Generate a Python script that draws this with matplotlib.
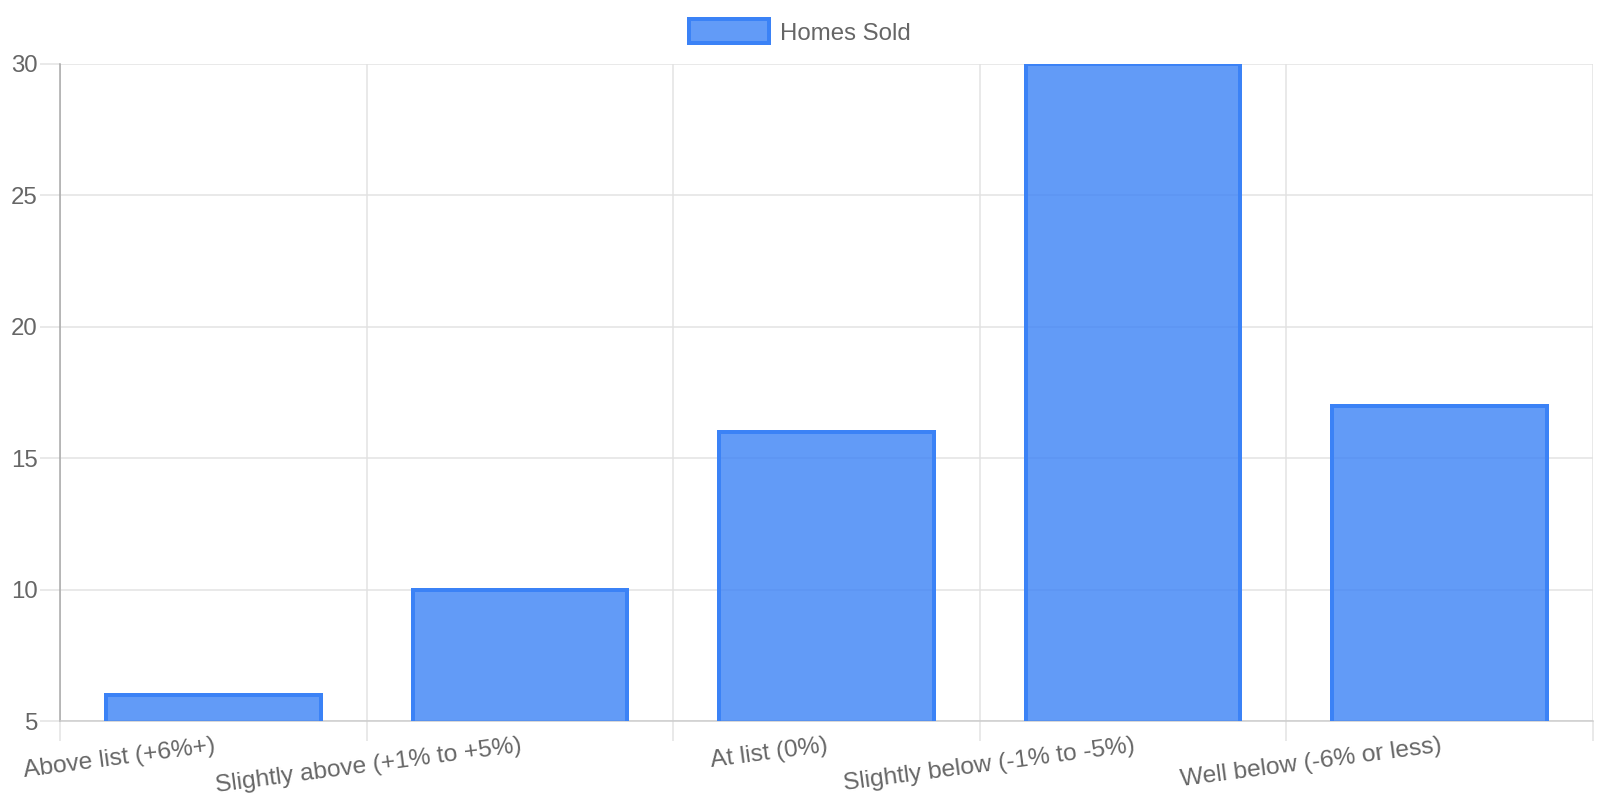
import matplotlib
matplotlib.use("Agg")
import matplotlib.pyplot as plt
from matplotlib.patches import Patch
import numpy as np

categories = ["Above list (+6%+)", "Slightly above (+1% to +5%)", "At list (0%)",
              "Slightly below (-1% to -5%)", "Well below (-6% or less)"]
homes_sold = [6, 10, 16, 30, 17]
y_ticks = [5, 10, 15, 20, 25, 30]
series_label = "Homes Sold"

plt.rcParams['font.family'] = ['Liberation Sans', 'DejaVu Sans']
PX = 0.72  # points per pixel at dpi 100
FS = 24 * PX
TEXT = '#666666'
GRID = '#e2e2e2'
FILL = (59/255, 130/255, 246/255, 0.8)
EDGE = '#3b82f6'

fig = plt.figure(figsize=(16, 8), dpi=100)
ax = fig.add_axes([60/1600, 1 - 721/800, (1593-60)/1600, (721-64)/800])

x = np.arange(len(categories))
ax.bar(x, homes_sold, width=0.70, color=FILL, edgecolor=EDGE, linewidth=4*PX, zorder=3)

ax.set_xlim(-0.5, len(categories) - 0.5)
ax.set_ylim(y_ticks[0], y_ticks[-1])

ax.set_yticks(y_ticks)
ax.set_xticks(x)
ax.set_xticklabels(categories, rotation=7.5, ha='right', va='top', rotation_mode='anchor',
                   fontsize=24.5 * PX)
ax.set_xticks(np.arange(len(categories) + 1) - 0.5, minor=True)

ax.tick_params(axis='y', which='major', length=20*PX, width=1.5*PX, color=GRID,
               labelsize=FS, labelcolor=TEXT, pad=2*PX)
ax.tick_params(axis='x', which='major', length=0, labelcolor=TEXT, pad=14*PX)
ax.tick_params(axis='x', which='minor', length=20*PX, width=1.5*PX, color=GRID)

ax.grid(axis='y', which='major', color=GRID, linewidth=1.5*PX, zorder=0)
ax.grid(axis='x', which='minor', color=GRID, linewidth=1.5*PX, zorder=0)
ax.set_axisbelow(True)

for s in ['top', 'right']:
    ax.spines[s].set_visible(False)
ax.spines['left'].set_color('#a6a6a6')
ax.spines['left'].set_linewidth(1.5*PX)
ax.spines['bottom'].set_color('#cccccc')
ax.spines['bottom'].set_linewidth(1.5*PX)

handle = Patch(facecolor=FILL, edgecolor=EDGE, linewidth=4*PX, label=series_label)
fig.legend(handles=[handle], loc='center', bbox_to_anchor=(0.5, 1 - 32/800),
           frameon=False, fontsize=FS, labelcolor=TEXT,
           handlelength=3.35, handleheight=1.15, handletextpad=0.45)

fig.savefig('out.png', dpi=100)
